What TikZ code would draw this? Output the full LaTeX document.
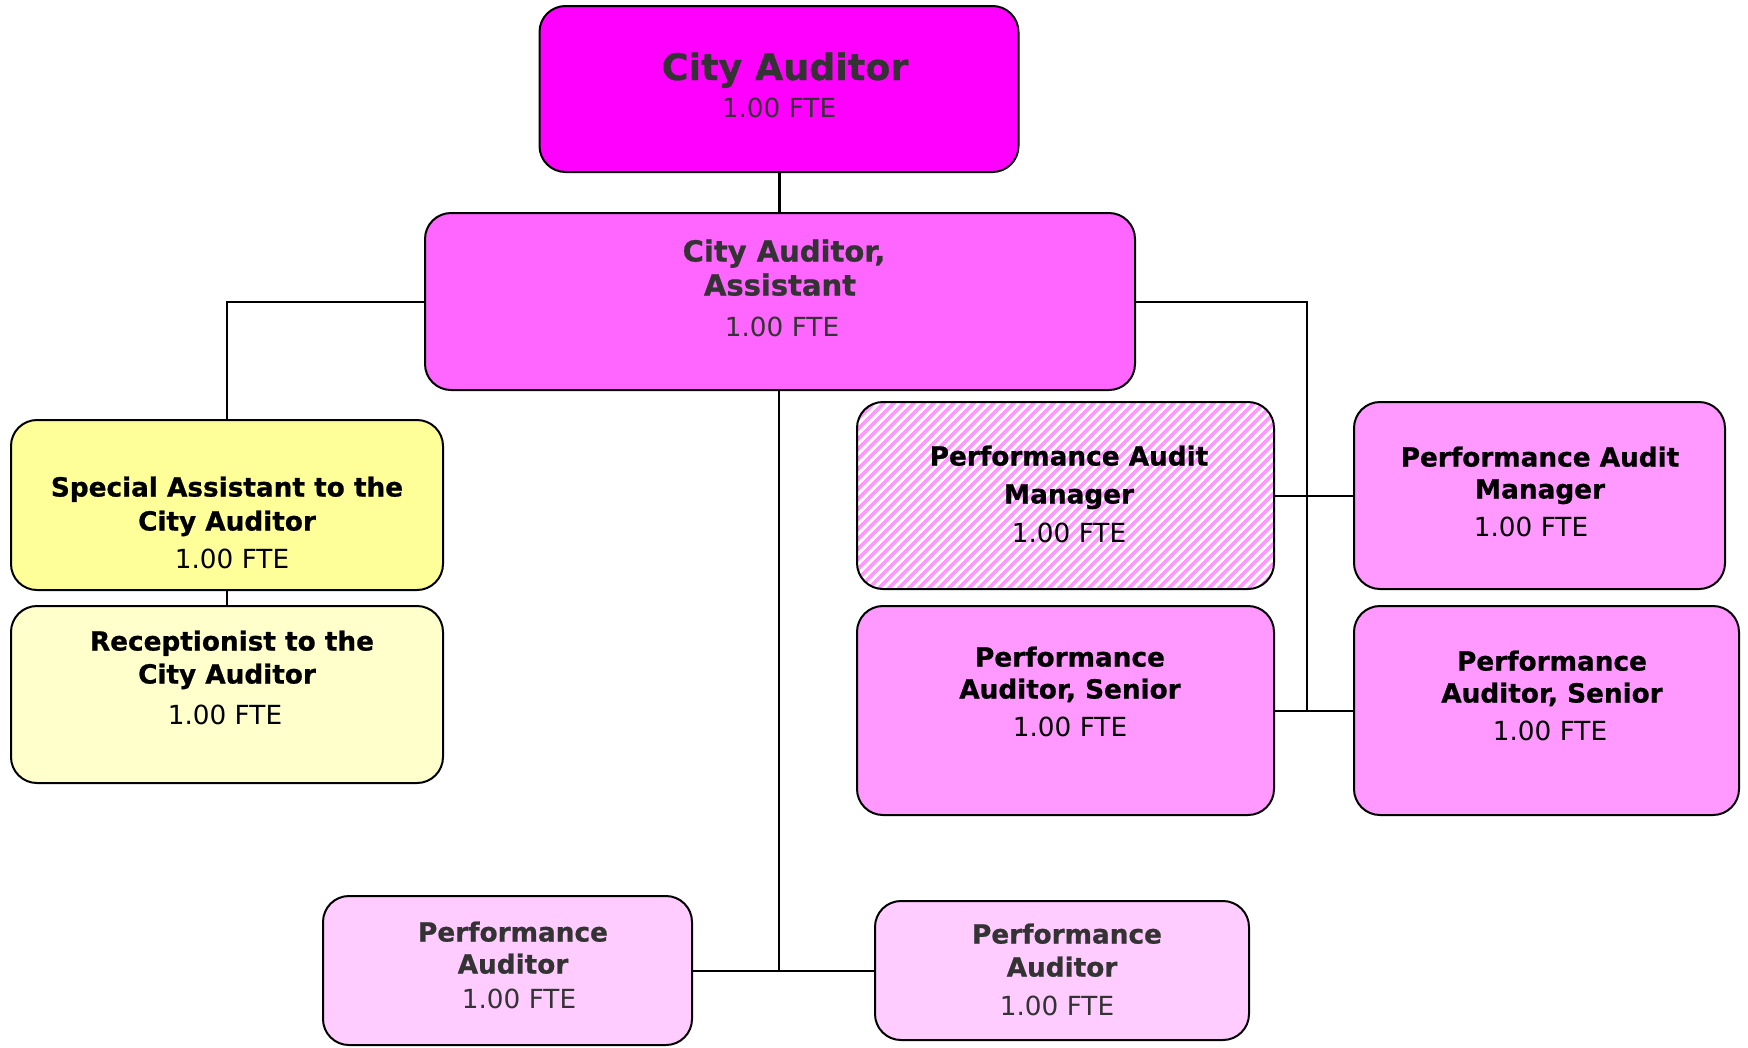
\documentclass[tikz,border=0pt]{standalone}
\usepackage{fontspec}
\setmainfont{DejaVu Sans}[BoldFeatures={FakeBold=0.8}]
\definecolor{magA}{HTML}{FF00FF}
\definecolor{magB}{HTML}{FF66FF}
\definecolor{magC}{HTML}{FF99FF}
\definecolor{magD}{HTML}{FFCCFF}
\definecolor{yelA}{HTML}{FFFF99}
\definecolor{yelB}{HTML}{FFFFCC}
\definecolor{ink}{HTML}{333333}
\begin{document}
\begin{tikzpicture}[x=1pt,y=-1pt,
  box/.style={draw=black, line width=2pt, rounded corners=26pt, inner sep=0pt},
  wire/.style={draw=black, line width=2pt},
  lbl/.style={inner sep=0pt, text depth=0pt},
  ttl/.style={lbl, text height=19pt, font=\fontsize{26.3}{30}\selectfont\bfseries},
  fte/.style={lbl, text height=19pt, font=\fontsize{26.3}{30}\selectfont},
  stripe/.style={draw=magC, line width=3.6pt}]
\useasboundingbox (0,0) rectangle (1748,1047);

% hatched background of the vacant manager position
\begin{scope}
  \clip[rounded corners=26pt] (857,402) rectangle (1274,589);
  \fill[white] (857,402) rectangle (1274,589);
  \foreach \i in {0,...,62} {
    \draw[stripe] (668+10*\i,589) -- ++(187,-187);
  }
\end{scope}

% boxes
\node[box, fill=magA, minimum width=479, minimum height=166] (top) at (779,89) {};
\node[box, fill=magB, minimum width=710, minimum height=177] (asst) at (780,301.5) {};
\node[box, fill=yelA, minimum width=432, minimum height=170] (spec) at (227,505) {};
\node[box, fill=yelB, minimum width=432, minimum height=177] (recp) at (227,694.5) {};
\node[box, minimum width=417, minimum height=187] (pamh) at (1065.5,495.5) {};
\node[box, fill=magC, minimum width=371, minimum height=187] (pamr) at (1539.5,495.5) {};
\node[box, fill=magC, minimum width=417, minimum height=209] (pasl) at (1065.5,710.5) {};
\node[box, fill=magC, minimum width=385, minimum height=209] (pasr) at (1546.5,710.5) {};
\node[box, fill=magD, minimum width=369, minimum height=149] (pabl) at (507.5,970.5) {};
\node[box, fill=magD, minimum width=374, minimum height=139] (pabr) at (1062,970.5) {};

% connectors
\coordinate (rj) at (1307,710.5);
\coordinate (bj) at (779,970.5);
\draw[wire, line width=3pt] (top.south) -- (top.south |- asst.north);
\draw[wire] (asst.west) -| (spec.north);
\draw[wire] (spec.south) -- (recp.north);
\draw[wire] (asst.east) -| (rj);
\draw[wire] (pamh.east) -- (pamr.west);
\draw[wire] (pasl.east) -- (pasr.west);
\draw[wire] (bj |- asst.south) -- (bj);
\draw[wire] (pabl.east) -- (pabr.west);

% labels
\node[lbl, text height=26pt, text=ink, font=\fontsize{36.5}{40}\selectfont\bfseries] (top-1) at (785,67) {City Auditor};
\node[fte, text=ink] (top-2) at (779,108) {1.00 FTE};

\node[lbl, text height=21pt, text=ink, font=\fontsize{29}{32}\selectfont\bfseries] (asst-1) at (784,251) {City Auditor,};
\node[lbl, text height=21pt, text=ink, font=\fontsize{29}{32}\selectfont\bfseries] (asst-2) at (780,285) {Assistant};
\node[fte, text=ink] (asst-3) at (782,327) {1.00 FTE};

\node[ttl] (spec-1) at (227,487) {Special Assistant to the};
\node[ttl] (spec-2) at (227,521) {City Auditor};
\node[fte] (spec-3) at (232,559) {1.00 FTE};

\node[ttl] (recp-1) at (232,641) {Receptionist to the};
\node[ttl] (recp-2) at (227,674) {City Auditor};
\node[fte] (recp-3) at (225,715) {1.00 FTE};

\node[ttl] (pamh-1) at (1069,456) {Performance Audit};
\node[ttl] (pamh-2) at (1069,494) {Manager};
\node[fte] (pamh-3) at (1069,533) {1.00 FTE};

\node[ttl] (pamr-1) at (1540,457) {Performance Audit};
\node[ttl] (pamr-2) at (1540,489) {Manager};
\node[fte] (pamr-3) at (1531,527) {1.00 FTE};

\node[ttl] (pasl-1) at (1070,657) {Performance};
\node[ttl] (pasl-2) at (1070,689) {Auditor, Senior};
\node[fte] (pasl-3) at (1070,727) {1.00 FTE};

\node[ttl] (pasr-1) at (1552,661) {Performance};
\node[ttl] (pasr-2) at (1552,693) {Auditor, Senior};
\node[fte] (pasr-3) at (1550,731) {1.00 FTE};

\node[ttl, text=ink] (pabl-1) at (513,932) {Performance};
\node[ttl, text=ink] (pabl-2) at (513,964) {Auditor};
\node[fte, text=ink] (pabl-3) at (519,999) {1.00 FTE};

\node[ttl, text=ink] (pabr-1) at (1067,934) {Performance};
\node[ttl, text=ink] (pabr-2) at (1062,967) {Auditor};
\node[fte, text=ink] (pabr-3) at (1057,1006) {1.00 FTE};
\end{tikzpicture}
\end{document}
